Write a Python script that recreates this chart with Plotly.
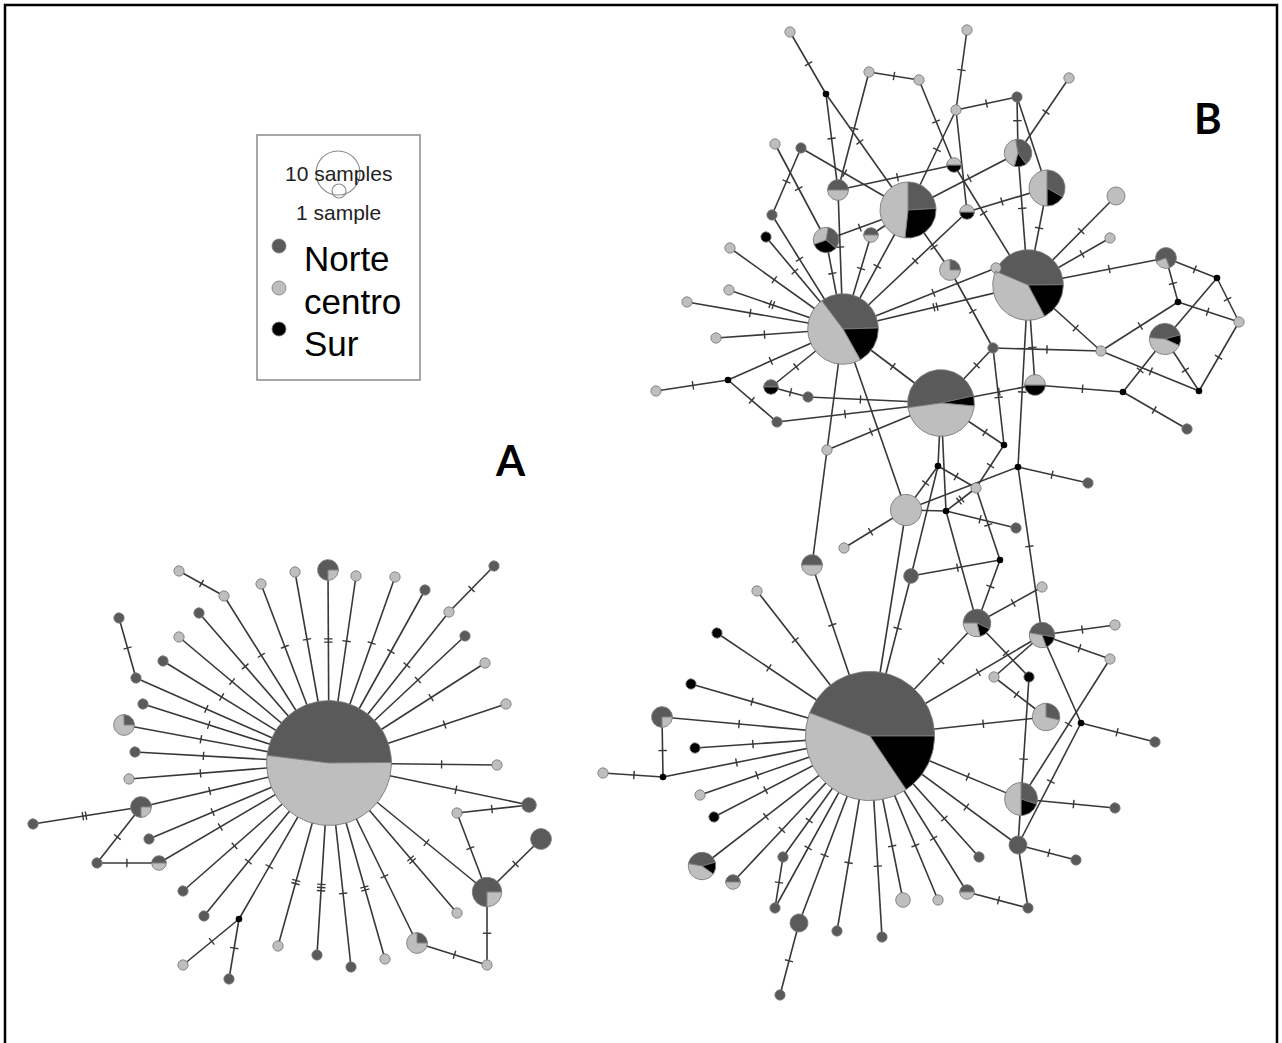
import math
import plotly.graph_objects as go

# ---------------- colours ----------------
NORTE = '#5a5a5a'
CENTRO = '#bebebe'
SUR = '#000000'
EDGE = '#383838'
OUTLINE = '#7a7a7a'

# ---------------- network A ----------------
a_x = [329, 179, 224, 261, 295, 328, 119, 136, 199, 179, 163, 143, 124, 135, 129, 141, 33, 97, 159, 149,
       183, 204, 239, 183, 229, 278, 317, 351, 385, 417, 457, 487, 487, 541, 529, 457, 497, 506, 485, 465,
       449, 494, 425, 395, 356]
a_y = [763, 571, 596, 584, 572, 570, 618, 678, 613, 637, 661, 704, 725, 752, 779, 807, 824, 863, 863, 839,
       891, 916, 919, 965, 979, 946, 955, 967, 959, 943, 913, 965, 892, 839, 805, 813, 765, 704, 663, 636,
       612, 566, 590, 577, 576]
a_norte = [69, 0, 0, 0, 0, 3, 1, 1, 1, 0, 1, 1, 1, 1, 0, 3, 1, 1, 1, 1,
           1, 1, 0, 0, 1, 0, 1, 1, 0, 1, 0, 0, 6, 4, 2, 0, 0, 0, 0, 1,
           0, 1, 1, 0, 0]
a_centro = [75, 1, 1, 1, 1, 1, 0, 0, 0, 1, 0, 0, 3, 0, 1, 1, 0, 0, 1, 0,
            0, 0, 0, 1, 0, 1, 0, 0, 1, 3, 1, 1, 2, 0, 0, 1, 1, 1, 1, 0,
            1, 0, 0, 1, 1]
a_sur = [0] * 45
a_rot = [173, 90, 90, 90, 90, -90, 90, 90, 90, 90, 90, 90, 90, 90, 90, -90, 90, 90, 180, 90,
         90, 90, 90, 90, 90, 90, 90, 90, 90, 90, 90, 90, -90, 90, 90, 90, 90, 90, 90, 90,
         90, 90, 90, 90, 90]
a_edge_from = [0, 1, 0, 0, 0, 0, 6, 0, 0, 0, 0, 0, 0, 0, 0, 15, 15, 17, 0, 0, 0, 0, 0, 22, 22, 0, 0, 0, 0,
               0, 29, 0, 31, 0, 32, 32, 35, 0, 0, 0, 0, 0, 0, 40, 0, 0, 0]
a_edge_to = [2, 2, 3, 4, 5, 7, 7, 8, 9, 10, 11, 12, 13, 14, 15, 16, 17, 18, 18, 19, 20, 21, 22, 23, 24, 25,
             26, 27, 28, 29, 31, 30, 32, 32, 33, 35, 34, 34, 36, 37, 38, 39, 40, 41, 42, 43, 44]
a_steps = [1, 1, 1, 1, 2, 1, 1, 1, 1, 1, 1, 1, 1, 1, 1, 2, 1, 1, 1, 1, 1, 1, 1, 1, 1, 2, 3, 1, 2, 1, 1,
           2, 1, 1, 1, 1, 1, 1, 1, 1, 1, 1, 1, 1, 1, 1, 1]

# ---------------- network B ----------------
b_x = [790, 826, 869, 919, 967, 956, 1017, 1069, 801, 775, 838, 908, 954, 772, 766, 826, 871, 730, 950, 729,
       687, 967, 1018, 1047, 1116, 1110, 1028, 996, 1166, 1217, 1178, 1239, 1165, 1101, 993, 1035, 1123, 1199,
       1187, 1004, 1018, 1088, 976, 1016, 843, 716, 656, 728, 771, 808, 777, 827, 941, 938, 946, 906, 844,
       812, 911, 1000, 870, 757, 717, 691, 662, 695, 663, 603, 700, 714, 702, 733, 783, 775, 799, 780, 837,
       882, 903, 938, 967, 979, 1018, 1076, 1028, 1021, 1115, 1081, 1155, 1046, 1029, 994, 1110, 1115, 1042,
       1042, 977]
b_y = [32, 94, 72, 80, 30, 110, 97, 78, 148, 144, 190, 210, 165, 215, 237, 240, 235, 248, 270, 290,
       302, 212, 153, 188, 196, 238, 285, 268, 258, 278, 302, 322, 339, 351, 348, 385, 392, 391,
       429, 445, 467, 483, 488, 528, 329, 338, 391, 380, 387, 397, 422, 450, 403, 466, 511, 510, 548,
       565, 576, 560, 736, 591, 633, 684, 717, 748, 777, 773, 795, 817, 866, 882, 857, 908, 923, 995, 931,
       937, 900, 900, 892, 857, 845, 860, 908, 799, 808, 723, 742, 717, 677, 677, 659, 625, 635,
       587, 623]
b_norte = [0, 0, 0, 0, 0, 0, 1, 0, 1, 0, 2, 7, 0, 1, 0, 2, 1, 0, 1, 0,
           0, 0, 3, 4, 0, 0, 20, 0, 3, 0, 0, 0, 4, 0, 1, 0, 0, 0,
           1, 0, 0, 1, 0, 1, 16, 0, 0, 0, 1, 1, 1, 0, 20, 0, 0, 0, 0,
           2, 2, 0, 68, 0, 0, 0, 3, 0, 0, 0, 0, 0, 3, 1, 1, 1, 3, 1, 1,
           1, 0, 0, 1, 1, 3, 1, 1, 3, 1, 0, 1, 2, 0, 0, 0, 0, 3,
           0, 4]
b_centro = [1, 0, 1, 1, 1, 1, 0, 1, 0, 1, 2, 14, 1, 0, 0, 2, 1, 1, 3, 1,
            1, 1, 3, 6, 3, 1, 18, 1, 1, 0, 0, 1, 4, 1, 0, 2, 0, 0,
            0, 0, 0, 0, 1, 0, 22, 1, 1, 0, 0, 0, 0, 1, 19, 0, 0, 9, 1,
            2, 0, 0, 62, 1, 0, 0, 1, 0, 0, 1, 1, 0, 3, 1, 0, 0, 0, 0, 0,
            0, 2, 1, 1, 0, 0, 0, 0, 5, 0, 0, 0, 5, 0, 1, 1, 1, 2,
            1, 2]
b_sur = [0, 0, 0, 0, 0, 0, 0, 0, 0, 0, 0, 8, 1, 0, 1, 2, 0, 0, 0, 0,
         0, 1, 1, 2, 0, 0, 8, 0, 0, 0, 0, 0, 1, 0, 0, 2, 0, 0,
         0, 0, 0, 0, 0, 0, 8, 0, 0, 0, 1, 0, 0, 0, 2, 0, 0, 0, 0,
         0, 0, 0, 24, 0, 1, 1, 0, 1, 0, 0, 0, 1, 1, 0, 0, 0, 0, 0, 0,
         0, 0, 0, 0, 0, 0, 0, 0, 2, 0, 0, 0, 0, 1, 0, 0, 0, 1,
         0, 1]
b_rot = [90, 90, 90, 90, 90, 90, 90, 90, 90, 90, 180, 90, 0, 90, 90, 80, 180, 90, 90, 90,
         90, 0, 100, 90, 90, 90, 157, 90, -160, 90, 90, 90, 175, 90, 90, 0, 90, 90,
         90, 90, 90, 90, 90, 90, 127, 90, 90, 90, 180, 90, 90, 90, 188, 90, 90, 90, 90,
         180, 90, 90, 159, 90, 90, 90, -90, 90, 90, 90, 90, 90, 170, 180, 90, 90, 90, 90, 90,
         90, 90, 90, 180, 90, 90, 90, 90, 90, 90, 90, 90, 90, 90, 90, 90, 90, 170,
         90, 180]
b_edges = [
    (0, 1, 1), (1, 11, 1), (1, 10, 1), (2, 10, 1), (2, 3, 1), (3, 12, 1), (4, 5, 1), (5, 6, 1), (5, 11, 1),
    (5, 21, 0), (6, 22, 1), (6, 23, 0), (7, 22, 1), (8, 11, 1), (8, 13, 1), (9, 15, 1), (10, 12, 1),
    (10, 44, 1), (11, 22, 1), (11, 15, 1), (11, 16, 0), (11, 18, 1), (11, 44, 1), (12, 26, 1), (21, 23, 1),
    (21, 44, 1), (22, 26, 1), (23, 26, 1), (24, 26, 1), (25, 26, 1), (26, 28, 1), (26, 33, 1), (26, 35, 1),
    (26, 40, 1), (26, 44, 2), (27, 44, 1), (13, 44, 1), (14, 44, 1), (15, 44, 1), (16, 44, 1), (17, 44, 1),
    (19, 44, 2), (20, 44, 1), (45, 44, 1), (47, 44, 1), (48, 44, 1), (18, 34, 1), (28, 29, 1), (28, 30, 1),
    (29, 31, 1), (29, 32, 0), (30, 31, 1), (30, 33, 1), (32, 36, 1), (32, 37, 1), (33, 37, 1), (37, 31, 1),
    (33, 34, 1), (34, 52, 1), (34, 39, 1), (35, 52, 1), (35, 36, 1), (36, 38, 1), (39, 52, 1), (39, 42, 1),
    (40, 41, 1), (40, 55, 0), (40, 94, 1), (42, 53, 1), (42, 59, 1), (53, 52, 0), (53, 55, 1), (53, 58, 0),
    (54, 52, 0), (54, 55, 0), (54, 42, 2), (54, 43, 1), (54, 96, 0), (55, 44, 0), (55, 56, 1), (55, 60, 0),
    (57, 51, 0), (57, 60, 1), (58, 59, 1), (58, 60, 1), (59, 96, 1), (51, 44, 0), (51, 52, 1), (49, 52, 1),
    (50, 52, 1), (48, 49, 1), (47, 46, 1), (47, 50, 1), (44, 52, 1), (95, 96, 1),
    (60, 61, 1), (60, 62, 1), (60, 63, 1), (60, 64, 1), (60, 65, 1), (60, 66, 1), (66, 64, 1), (66, 67, 1),
    (60, 68, 1), (60, 69, 1), (60, 70, 1), (60, 71, 1), (60, 72, 1), (72, 73, 1), (60, 73, 1), (60, 74, 1),
    (74, 75, 1), (60, 76, 1), (60, 77, 1), (60, 78, 1), (60, 79, 1), (60, 80, 1), (60, 81, 1), (60, 82, 1),
    (60, 85, 1), (60, 89, 1), (60, 94, 1), (60, 96, 1), (94, 92, 1), (94, 93, 1), (94, 91, 0), (94, 87, 0),
    (91, 89, 1), (90, 96, 1), (90, 82, 1), (87, 88, 1), (87, 82, 1), (92, 85, 1), (85, 86, 1), (82, 83, 1),
    (82, 84, 0), (80, 84, 1),
]
b_edge_from = [e[0] for e in b_edges]
b_edge_to = [e[1] for e in b_edges]
b_steps = [e[2] for e in b_edges]

# ---------------- legend / labels ----------------
legend_groups = ['Norte', 'centro', 'Sur']
size_labels = ['10 samples', '1 sample']
panel_labels = ['A', 'B']

# ---------------- geometry helpers ----------------
R_UNIT = 5.2     # radius (px) of a one-sample circle
R_MEDIAN = 3.3


def radius(n):
    return R_UNIT * math.sqrt(n) if n > 0 else R_MEDIAN


def arc(cx, cy, r, a0, sweep, with_center):
    steps = max(6, int(abs(sweep) / 3) + 1)
    xs, ys = ([cx], [cy]) if with_center else ([], [])
    for i in range(steps + 1):
        t = math.radians(a0 - sweep * i / steps)
        xs.append(cx + r * math.cos(t))
        ys.append(cy - r * math.sin(t))
    if with_center:
        xs.append(cx)
        ys.append(cy)
    return xs, ys


poly = {NORTE: ([], []), SUR: ([], []), CENTRO: ([], [])}
edge_x, edge_y, tick_x, tick_y = [], [], [], []
med_x, med_y = [], []


def add_network(xs, ys, nn, cc, ss, rot, efrom, eto, steps):
    tot = [nn[i] + cc[i] + ss[i] for i in range(len(xs))]
    for i, j, k in zip(efrom, eto, steps):
        x1, y1, x2, y2 = xs[i], ys[i], xs[j], ys[j]
        edge_x.extend([x1, x2, None])
        edge_y.extend([y1, y2, None])
        d = math.hypot(x2 - x1, y2 - y1)
        ux, uy = (x2 - x1) / d, (y2 - y1) / d
        r1, r2 = radius(tot[i]), radius(tot[j])
        s = (r1 + (d - r2)) / 2.0
        mx, my = x1 + ux * s, y1 + uy * s
        px, py = -uy, ux
        for m in range(k):
            off = (m - (k - 1) / 2.0) * 3.2
            cx, cy = mx + ux * off, my + uy * off
            tick_x.extend([cx - px * 4.2, cx + px * 4.2, None])
            tick_y.extend([cy - py * 4.2, cy + py * 4.2, None])
    for i in range(len(xs)):
        if tot[i] == 0:
            med_x.append(xs[i])
            med_y.append(ys[i])
            continue
        r = radius(tot[i])
        parts = [(nn[i], NORTE), (ss[i], SUR), (cc[i], CENTRO)]
        nz = [p for p in parts if p[0] > 0]
        a = rot[i]
        for cnt, col in parts:
            if cnt == 0:
                continue
            sweep = 360.0 * cnt / tot[i]
            px_, py_ = arc(xs[i], ys[i], r, a, sweep, len(nz) > 1)
            poly[col][0].extend(px_ + [None])
            poly[col][1].extend(py_ + [None])
            a -= sweep


add_network(a_x, a_y, a_norte, a_centro, a_sur, a_rot, a_edge_from, a_edge_to, a_steps)
add_network(b_x, b_y, b_norte, b_centro, b_sur, b_rot, b_edge_from, b_edge_to, b_steps)

fig = go.Figure()
fig.add_trace(go.Scatter(x=edge_x, y=edge_y, mode='lines', line=dict(color=EDGE, width=1.6),
                         hoverinfo='skip'))
fig.add_trace(go.Scatter(x=tick_x, y=tick_y, mode='lines', line=dict(color=EDGE, width=1.4),
                         hoverinfo='skip'))
for col in (NORTE, SUR, CENTRO):
    fig.add_trace(go.Scatter(x=poly[col][0], y=poly[col][1], mode='lines', fill='toself',
                             fillcolor=col, line=dict(color=OUTLINE, width=0.9), hoverinfo='skip'))
fig.add_trace(go.Scatter(x=med_x, y=med_y, mode='markers',
                         marker=dict(color=SUR, size=2 * R_MEDIAN, line=dict(width=0)), hoverinfo='skip'))

# legend box (drawn in data space)
shapes = [
    dict(type='rect', x0=5, y0=5, x1=1277, y1=1060, line=dict(color='black', width=2.5)),
    dict(type='rect', x0=257, y0=135, x1=420, y1=380, line=dict(color='#8a8a8a', width=1.5)),
    dict(type='circle', x0=316, y0=151, x1=360, y1=195, line=dict(color='#8a8a8a', width=1.2)),
    dict(type='circle', x0=332, y0=184, x1=346, y1=198, line=dict(color='#8a8a8a', width=1.2)),
]
legend_cols = [NORTE, CENTRO, SUR]
legend_y = [246, 288, 329]
for col, ly in zip(legend_cols, legend_y):
    shapes.append(dict(type='circle', x0=272, y0=ly - 7, x1=286, y1=ly + 7, fillcolor=col,
                       line=dict(color=OUTLINE, width=0.8)))

annotations = [
    dict(x=338, y=173, text=size_labels[0], showarrow=False, font=dict(family='Liberation Sans', size=21, color='#222')),
    dict(x=338, y=212, text=size_labels[1], showarrow=False, font=dict(family='Liberation Sans', size=21, color='#222')),
    dict(x=510, y=460, text='<b>' + panel_labels[0] + '</b>', showarrow=False,
         font=dict(family='Lato', size=42, color='black')),
    dict(x=1208, y=118, text='<b>' + panel_labels[1] + '</b>', showarrow=False,
         font=dict(family='Lato', size=42, color='black')),
]
legend_text_y = [258, 301, 343]
for name, ty in zip(legend_groups, legend_text_y):
    annotations.append(dict(x=302, y=ty, text=name, showarrow=False, xanchor='left',
                            font=dict(family='Liberation Sans', size=35, color='black')))

fig.update_layout(
    width=1282, height=1043, margin=dict(l=0, r=0, t=0, b=0),
    paper_bgcolor='white', plot_bgcolor='white', showlegend=False,
    xaxis=dict(range=[0, 1282], visible=False, fixedrange=True),
    yaxis=dict(range=[1043, 0], visible=False, fixedrange=True),
    shapes=shapes, annotations=annotations,
)
fig.write_html("out.html", config={'displayModeBar': False, 'staticPlot': True},
               post_script="document.body.style.margin='0';document.body.style.overflow='hidden';")
